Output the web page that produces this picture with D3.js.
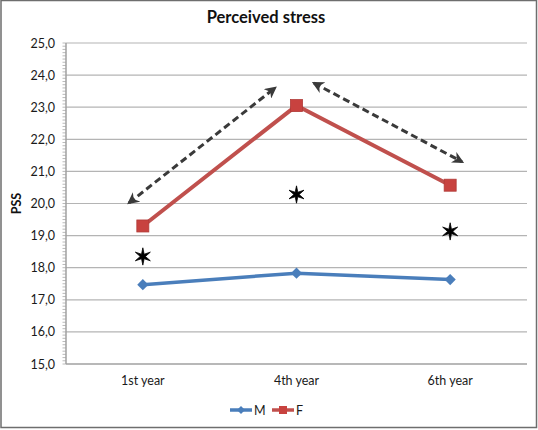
<!DOCTYPE html>
<html>
<head>
<meta charset="utf-8">
<script src="https://cdn.jsdelivr.net/npm/d3@7"></script>
<style>
  html, body { margin: 0; padding: 0; background: #fff; }
  svg { display: block; }
</style>
</head>
<body>
<svg id="chart" width="538" height="430"></svg>
<script>
const categories = ["1st year", "4th year", "6th year"];
const maleValues = [17.47, 17.83, 17.63];
const femaleValues = [19.3, 23.05, 20.57];
const starValues = [18.35, 20.28, 19.13];
const yTicks = [15, 16, 17, 18, 19, 20, 21, 22, 23, 24, 25];
const seriesNames = ["M", "F"];
// annotation arrows in data space: [categoryIndexFrom, valueFrom, categoryIndexTo, valueTo]
const arrowEnds = [
  [-0.09, 20.02, 0.86, 23.6],
  [1.114, 23.75, 2.077, 21.3]
];

const W = 538, H = 430;
const margin = { left: 66, right: 11, top: 43, bottom: 66 };
const svg = d3.select("#chart");
const font = "Lato, 'Open Sans', sans-serif";

// frame
svg.append("rect").attr("x", 1).attr("y", 0.5).attr("width", W - 2.5).attr("height", H - 3)
  .attr("fill", "#fff").attr("stroke", "#6e6e6e").attr("stroke-width", 1.5);

const x = d3.scaleBand().domain(categories).range([margin.left, W - margin.right]);
const xi = d3.scaleLinear().domain([-0.5, 2.5]).range([margin.left, W - margin.right]);
const y = d3.scaleLinear().domain([15, 25]).range([H - margin.bottom, margin.top]);
const cx = c => x(c) + x.bandwidth() / 2;

// gridlines
svg.append("g").selectAll("line").data(yTicks.filter(t => t > 15)).join("line")
  .attr("x1", margin.left).attr("x2", W - margin.right)
  .attr("y1", d => y(d)).attr("y2", d => y(d))
  .attr("stroke", "#b4b4b4").attr("stroke-width", 1.2);

// y axis with minor ticks
const minor = d3.range(150, 251).map(v => v / 10);
svg.append("g").selectAll("line").data(minor).join("line")
  .attr("x1", margin.left - 3.5).attr("x2", margin.left)
  .attr("y1", d => y(d)).attr("y2", d => y(d))
  .attr("stroke", "#a8a8a8").attr("stroke-width", 0.8);
svg.append("line").attr("x1", margin.left).attr("x2", margin.left)
  .attr("y1", y(25)).attr("y2", y(15)).attr("stroke", "#a0a0a0").attr("stroke-width", 1.5);
svg.append("line").attr("x1", margin.left).attr("x2", W - margin.right)
  .attr("y1", y(15)).attr("y2", y(15)).attr("stroke", "#a0a0a0").attr("stroke-width", 1.5);

const yAxis = d3.axisLeft(y).tickValues(yTicks).tickSize(0).tickPadding(11)
  .tickFormat(d => d3.format(".1f")(d).replace(".", ","));
const ya = svg.append("g").attr("transform", `translate(${margin.left},0)`).call(yAxis);
ya.select(".domain").remove();
ya.selectAll("text").attr("font-family", font).attr("font-size", 12.5).attr("fill", "#1a1a1a");

const xAxis = d3.axisBottom(x).tickSize(0).tickPadding(12);
const xa = svg.append("g").attr("transform", `translate(0,${y(15)})`).call(xAxis);
xa.select(".domain").remove();
xa.selectAll("text").attr("font-family", font).attr("font-size", 12.5).attr("fill", "#1a1a1a");

// title and axis label
svg.append("text").attr("x", 266).attr("y", 23).attr("text-anchor", "middle")
  .attr("font-family", font).attr("font-weight", "bold").attr("font-size", 16.5).attr("fill", "#111")
  .text("Perceived stress");
svg.append("text").attr("transform", `translate(21,${y(20)}) rotate(-90)`).attr("text-anchor", "middle")
  .attr("font-family", font).attr("font-weight", "bold").attr("font-size", 12.5).attr("fill", "#111")
  .text("PSS");

// arrows
const defs = svg.append("defs");
defs.append("marker").attr("id", "ah").attr("viewBox", "0 0 10 10").attr("refX", 8).attr("refY", 5)
  .attr("markerWidth", 4).attr("markerHeight", 4).attr("orient", "auto-start-reverse")
  .attr("markerUnits", "strokeWidth")
  .append("path").attr("d", "M0,0 L10,5 L0,10 L3,5 Z").attr("fill", "#3a3a3a");
svg.append("g").selectAll("line").data(arrowEnds).join("line")
  .attr("x1", d => xi(d[0])).attr("y1", d => y(d[1]))
  .attr("x2", d => xi(d[2])).attr("y2", d => y(d[3]))
  .attr("stroke", "#3a3a3a").attr("stroke-width", 3).attr("stroke-dasharray", "7,4")
  .attr("marker-start", "url(#ah)").attr("marker-end", "url(#ah)");

// lines
const line = d3.line().x((d, i) => cx(categories[i])).y(d => y(d));
const blue = "#4a7ebb", red = "#c0504d";
svg.append("path").datum(maleValues).attr("d", line).attr("fill", "none")
  .attr("stroke", blue).attr("stroke-width", 3.5).attr("stroke-linejoin", "round");
svg.append("path").datum(femaleValues).attr("d", line).attr("fill", "none")
  .attr("stroke", red).attr("stroke-width", 4).attr("stroke-linejoin", "round");

const diamond = d3.symbol().type(d3.symbolDiamond2).size(80);
svg.append("g").selectAll("path").data(maleValues).join("path")
  .attr("d", diamond).attr("transform", (d, i) => `translate(${cx(categories[i])},${y(d)})`)
  .attr("fill", blue);
svg.append("g").selectAll("rect").data(femaleValues).join("rect")
  .attr("x", (d, i) => cx(categories[i]) - 6).attr("y", d => y(d) - 6)
  .attr("width", 12).attr("height", 12).attr("fill", "#c8423f").attr("stroke", "#b03a37").attr("stroke-width", 0.8);

// stars: custom six-pointed star symbol
const sixStar = {
  draw(context, size) {
    const r = Math.sqrt(size) / 2, ri = r * 0.3;
    for (let k = 0; k < 12; k++) {
      const a = -Math.PI / 2 + k * Math.PI / 6;
      const rr = k % 2 === 0 ? r : ri;
      const px = rr * Math.cos(a), py = rr * Math.sin(a);
      if (k === 0) context.moveTo(px, py); else context.lineTo(px, py);
    }
    context.closePath();
  }
};
const star = d3.symbol().type(sixStar).size(300);
svg.append("g").selectAll("path").data(starValues).join("path")
  .attr("transform", (d, i) => `translate(${cx(categories[i])},${y(d)})`)
  .attr("d", star).attr("fill", "#000").attr("stroke", "#000").attr("stroke-width", 0.8)
  .attr("stroke-linejoin", "round");

// legend
const lg = svg.append("g").attr("transform", "translate(0,410)");
const legendItems = [
  { name: seriesNames[0], color: blue, x0: 230, shape: "diamond" },
  { name: seriesNames[1], color: red, x0: 272, shape: "square" }
];
legendItems.forEach(it => {
  lg.append("line").attr("x1", it.x0).attr("x2", it.x0 + 22).attr("y1", 0).attr("y2", 0)
    .attr("stroke", it.color).attr("stroke-width", 3.5);
  if (it.shape === "diamond") {
    lg.append("path").attr("d", d3.symbol().type(d3.symbolDiamond2).size(40)())
      .attr("transform", `translate(${it.x0 + 11},0)`).attr("fill", it.color);
  } else {
    lg.append("rect").attr("x", it.x0 + 7).attr("y", -4).attr("width", 8).attr("height", 8).attr("fill", "#c8423f");
  }
  lg.append("text").attr("x", it.x0 + 24).attr("y", 4.5).attr("font-family", font).attr("font-size", 12.5)
    .attr("fill", "#1a1a1a").text(it.name);
});
</script>
</body>
</html>
